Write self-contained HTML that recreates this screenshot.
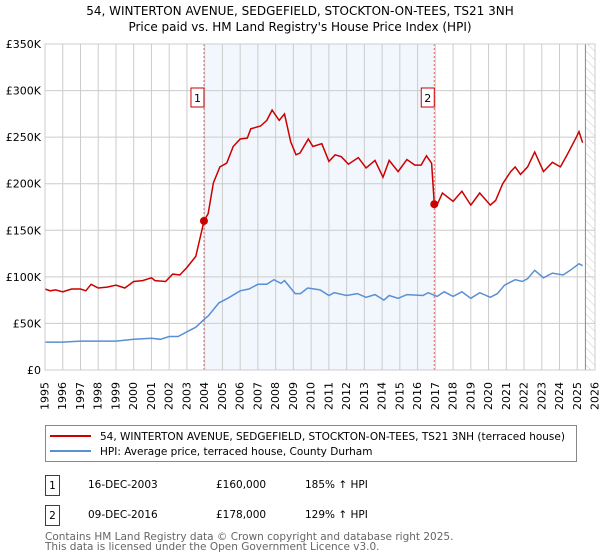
<!DOCTYPE html>
<html><head><meta charset="utf-8"><style>
body{margin:0;background:#fff;font-family:"DejaVu Sans","Liberation Sans",sans-serif;position:relative;width:600px;height:560px;overflow:hidden;}
svg text{font-family:"DejaVu Sans","Liberation Sans",sans-serif;}
.yl{position:absolute;top:382px;width:13px;font-size:11px;line-height:13px;color:#000;writing-mode:vertical-rl;writing-mode:sideways-lr;white-space:nowrap;}
svg{position:absolute;left:0;top:0;}
</style></head><body>
<svg id="chart" width="600" height="560" xmlns="http://www.w3.org/2000/svg">
<defs><pattern id="hatch" width="6" height="6" patternUnits="userSpaceOnUse" patternTransform="rotate(-45)"><line x1="0" y1="0" x2="0" y2="6" stroke="#ccc" stroke-width="1"/></pattern></defs>
<text x="300" y="15" text-anchor="middle" font-size="12" fill="#000">54, WINTERTON AVENUE, SEDGEFIELD, STOCKTON-ON-TEES, TS21 3NH</text>
<text x="300" y="31" text-anchor="middle" font-size="12" fill="#000">Price paid vs. HM Land Registry's House Price Index (HPI)</text>
<g id="plot"></g>
<g>
<rect x="45.5" y="425.5" width="531" height="36" fill="#fff" stroke="#888"/>
<line x1="50" y1="436" x2="91" y2="436" stroke="#cc0000" stroke-width="2"/>
<text x="100" y="440" font-size="10.5">54, WINTERTON AVENUE, SEDGEFIELD, STOCKTON-ON-TEES, TS21 3NH (terraced house)</text>
<line x1="50" y1="451" x2="91" y2="451" stroke="#5b8fd4" stroke-width="2"/>
<text x="100" y="455" font-size="10.5">HPI: Average price, terraced house, County Durham</text>
</g>
<g font-size="10.5">
<rect x="45.5" y="475.5" width="14" height="20" fill="#fff" stroke="#cc0000"/><text x="52.5" y="489" text-anchor="middle">1</text>
<text x="88" y="488">16-DEC-2003</text><text x="216" y="488">£160,000</text><text x="305" y="488">185% ↑ HPI</text>
<rect x="45.5" y="505.5" width="14" height="20" fill="#fff" stroke="#cc0000"/><text x="52.5" y="519" text-anchor="middle">2</text>
<text x="88" y="518">09-DEC-2016</text><text x="216" y="518">£178,000</text><text x="305" y="518">129% ↑ HPI</text>
</g>
<text x="45" y="540" font-size="10.5" fill="#666">Contains HM Land Registry data © Crown copyright and database right 2025.</text>
<text x="45" y="550" font-size="10.5" fill="#666">This data is licensed under the Open Government Licence v3.0.</text>
</svg>
<div id="xlabels"></div>
<script>
const yTicks=[0,50,100,150,200,250,300,350];
const yTickLabels=["£0","£50K","£100K","£150K","£200K","£250K","£300K","£350K"];
const years=[1995,1996,1997,1998,1999,2000,2001,2002,2003,2004,2005,2006,2007,2008,2009,2010,2011,2012,2013,2014,2015,2016,2017,2018,2019,2020,2021,2022,2023,2024,2025,2026];
const redT=[1995.0,1995.3,1995.6,1996,1996.5,1997,1997.3,1997.6,1998,1998.5,1999,1999.5,2000,2000.5,2001,2001.2,2001.8,2002.2,2002.6,2003,2003.5,2003.96,2004.2,2004.49,2004.86,2005.24,2005.61,2006,2006.4,2006.6,2007.15,2007.5,2007.8,2008.2,2008.5,2008.85,2009.15,2009.37,2009.84,2010.1,2010.6,2011.0,2011.35,2011.7,2012.1,2012.66,2013.1,2013.6,2014.05,2014.4,2014.9,2015.4,2015.85,2016.2,2016.5,2016.79,2016.94,2017.07,2017.4,2018,2018.5,2019,2019.5,2020.1,2020.4,2020.8,2021.25,2021.5,2021.8,2022.2,2022.6,2023.1,2023.6,2024.05,2024.4,2024.95,2025.1,2025.3];
const redV=[87,85,86,84,87,87,85,92,88,89,91,88,95,96,99,96,95,103,102,110,122,160,168,201,218,222,240,248,249,259,262,268,279,268,275,245,231,233,248,240,243,224,231,229,221,228,217,225,207,225,213,226,220,220,230,222,178,176,190,181,192,177,190,177,182,200,213,218,210,218,234,213,223,218,230,250,256,244];
const blueT=[1995,1996,1997,1998,1999,2000,2001,2001.5,2002,2002.5,2003,2003.5,2004,2004.2,2004.8,2005.3,2006,2006.5,2007,2007.5,2007.9,2008.3,2008.5,2009.1,2009.4,2009.8,2010.5,2011,2011.3,2012,2012.6,2013.1,2013.6,2014.1,2014.4,2014.9,2015.4,2016.3,2016.6,2017.1,2017.5,2018,2018.5,2019,2019.5,2020.1,2020.5,2020.9,2021.5,2021.9,2022.2,2022.6,2023.1,2023.6,2024.2,2024.6,2025.1,2025.3];
const blueV=[30,30,31,31,31,33,34,33,36,36,41,46,55,58,72,77,85,87,92,92,97,93,96,82,82,88,86,80,83,80,82,78,81,75,80,77,81,80,83,79,84,79,84,77,83,78,82,91,97,95,98,107,99,104,102,107,114,112];
const saleT=[2003.96,2016.94];
const saleV=[160,178];
const saleLabels=["1","2"];
const NS="http://www.w3.org/2000/svg";
const L=45,R=595,T=44,B=370;
const x=t=>L+(t-1995)/31*(R-L);
const y=v=>B-v/350*(B-T);
const g=document.getElementById('plot');
const xl=document.getElementById('xlabels');
function mk(tag,attrs,parent){const e=document.createElementNS(NS,tag);for(const k in attrs)e.setAttribute(k,attrs[k]);(parent||g).appendChild(e);return e;}
let e;
e=mk('rect',{x:x(saleT[0]),y:T,width:x(saleT[1])-x(saleT[0]),height:B-T,fill:'#eef3fc',opacity:0.75});


e=mk('rect',{x:x(2025.46),y:T,width:R-x(2025.46),height:B-T,fill:'url(#hatch)'});


years.forEach(yr=>{
  e=mk('line',{x1:x(yr),x2:x(yr),y1:T,y2:B,stroke:'#ccc','stroke-width':1});
  
  
  const d=document.createElement('div');
  d.className='yl';
  d.style.left=(x(yr)-6.5)+'px';
  d.textContent=yr;
  
  
  xl.appendChild(d);
});
yTicks.forEach((v,i)=>{
  e=mk('line',{x1:L,x2:R,y1:y(v),y2:y(v),stroke:'#ccc','stroke-width':1});
  
  
  e=mk('text',{x:L-4,y:y(v)+4,'font-size':11,'text-anchor':'end'});
  e.textContent=yTickLabels[i];
  
  
});
e=mk('line',{x1:x(2025.46),x2:x(2025.46),y1:T,y2:B,stroke:'#888','stroke-width':1});


saleT.forEach((t,i)=>{
  e=mk('line',{x1:x(t),x2:x(t),y1:T,y2:B,stroke:'#e06666','stroke-width':1,'stroke-dasharray':'2,2'});
  
  
});
e=mk('path',{d:blueT.map((t,i)=>(i?'L':'M')+x(t).toFixed(1)+','+y(blueV[i]).toFixed(1)).join(''),fill:'none',stroke:'#5b8fd4','stroke-width':1.5});


e=mk('path',{d:redT.map((t,i)=>(i?'L':'M')+x(t).toFixed(1)+','+y(redV[i]).toFixed(1)).join(''),fill:'none',stroke:'#cc0000','stroke-width':1.5});


saleT.forEach((t,i)=>{
  e=mk('circle',{cx:x(t),cy:y(saleV[i]),r:4,fill:'#cc0000'});
  
  
  e=mk('rect',{x:x(t)-13,y:88,width:13,height:19,fill:'#fff',stroke:'#cc0000'});
  
  
  e=mk('text',{x:x(t)-6.5,y:102,'font-size':11,'text-anchor':'middle'});
  e.textContent=saleLabels[i];
  
  
});
e=mk('rect',{x:L,y:T,width:R-L,height:B-T,fill:'none',stroke:'#ccc'});


</script>
</body></html>
